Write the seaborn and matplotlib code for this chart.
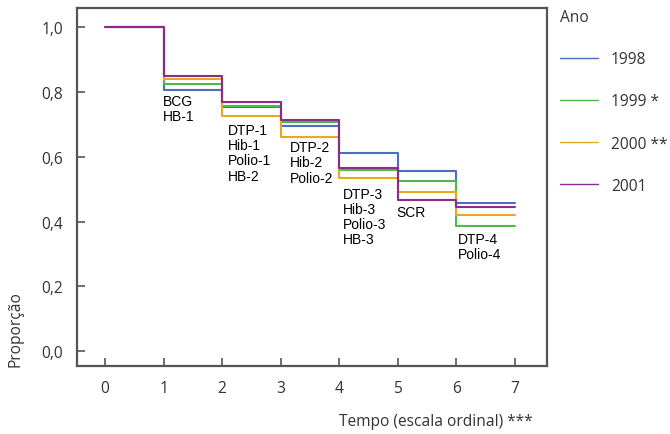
import pandas as pd
import seaborn as sns
from matplotlib import pyplot as plt

# survival-like proportions per ordinal time step (0..7)
TIME = [0, 1, 2, 3, 4, 5, 6, 7]
Y1998 = [1.0, 0.807, 0.752, 0.695, 0.611, 0.557, 0.457, 0.457]
Y1999 = [1.0, 0.824, 0.757, 0.706, 0.560, 0.525, 0.386, 0.386]
Y2000 = [1.0, 0.840, 0.726, 0.662, 0.535, 0.491, 0.421, 0.421]
Y2001 = [1.0, 0.850, 0.770, 0.713, 0.565, 0.466, 0.445, 0.445]
YEARS = ["1998", "1999 *", "2000 **", "2001"]
COLORS = ["#4a6fc0", "#4cbb4c", "#e8a820", "#8e2a87"]

Y_TICKS = [0.0, 0.2, 0.4, 0.6, 0.8, 1.0]
Y_TICK_LABELS = ["0,0", "0,2", "0,4", "0,6", "0,8", "1,0"]

# vaccine labels placed under each step
VACCINES = [
    (0.99, 0.795, "BCG\nHB-1"),
    (2.10, 0.705, "DTP-1\nHib-1\nPolio-1\nHB-2"),
    (3.16, 0.652, "DTP-2\nHib-2\nPolio-2"),
    (4.06, 0.508, "DTP-3\nHib-3\nPolio-3\nHB-3"),
    (4.98, 0.452, "SCR"),
    (6.02, 0.368, "DTP-4\nPolio-4"),
]

FRAME = "#555555"
TEXT = "#333333"
FS = 11.2

sns.set_theme(style="white")
plt.rcParams["font.family"] = ["Open Sans", "DejaVu Sans"]

df = pd.DataFrame({
    "tempo": TIME * 4,
    "prop": Y1998 + Y1999 + Y2000 + Y2001,
    "ano": sum([[y] * len(TIME) for y in YEARS], []),
})

fig = plt.figure(figsize=(6.7, 4.35), dpi=100)
ax = fig.add_axes([77 / 670, 68 / 435, 470 / 670, 358 / 435])

sns.lineplot(data=df, x="tempo", y="prop", hue="ano", hue_order=YEARS,
             palette=COLORS, estimator=None, drawstyle="steps-post",
             linewidth=1.5, ax=ax)

for x, y, txt in VACCINES:
    ax.text(x, y, txt, ha="left", va="top", fontsize=10, color="black",
            family=["Liberation Sans", "DejaVu Sans"], linespacing=1.12)

ax.set_xlim(-0.48, 7.55)
ax.set_ylim(-0.046, 1.059)
ax.set_xticks(TIME)
ax.set_yticks(Y_TICKS)
ax.set_yticklabels(Y_TICK_LABELS)
ax.tick_params(axis="both", direction="in", length=6, width=1.2,
               color=FRAME, labelsize=FS, labelcolor=TEXT, pad=10,
               left=True, bottom=True)
for sp in ax.spines.values():
    sp.set_visible(True)
    sp.set_color(FRAME)
    sp.set_linewidth(1.6)

ax.set_xlabel("Tempo (escala ordinal) ***", fontsize=FS, color=TEXT, loc="right")
ax.xaxis.set_label_coords((533 - 77) / 470, -0.13)
ax.set_ylabel("Proporção", fontsize=FS, color=TEXT, loc="bottom")
ax.yaxis.set_label_coords(-0.113, 0.0)

leg = ax.legend(title="Ano", loc="upper left", bbox_to_anchor=(0.997, 1.036),
                frameon=False, fontsize=FS, title_fontsize=FS,
                labelspacing=1.68, handlelength=2.5, handletextpad=0.8,
                alignment="left")
for line in leg.get_lines():
    line.set_linewidth(1.0)
for t in leg.get_texts():
    t.set_color(TEXT)
leg.get_title().set_color(TEXT)

fig.savefig("out.png", dpi=100)
